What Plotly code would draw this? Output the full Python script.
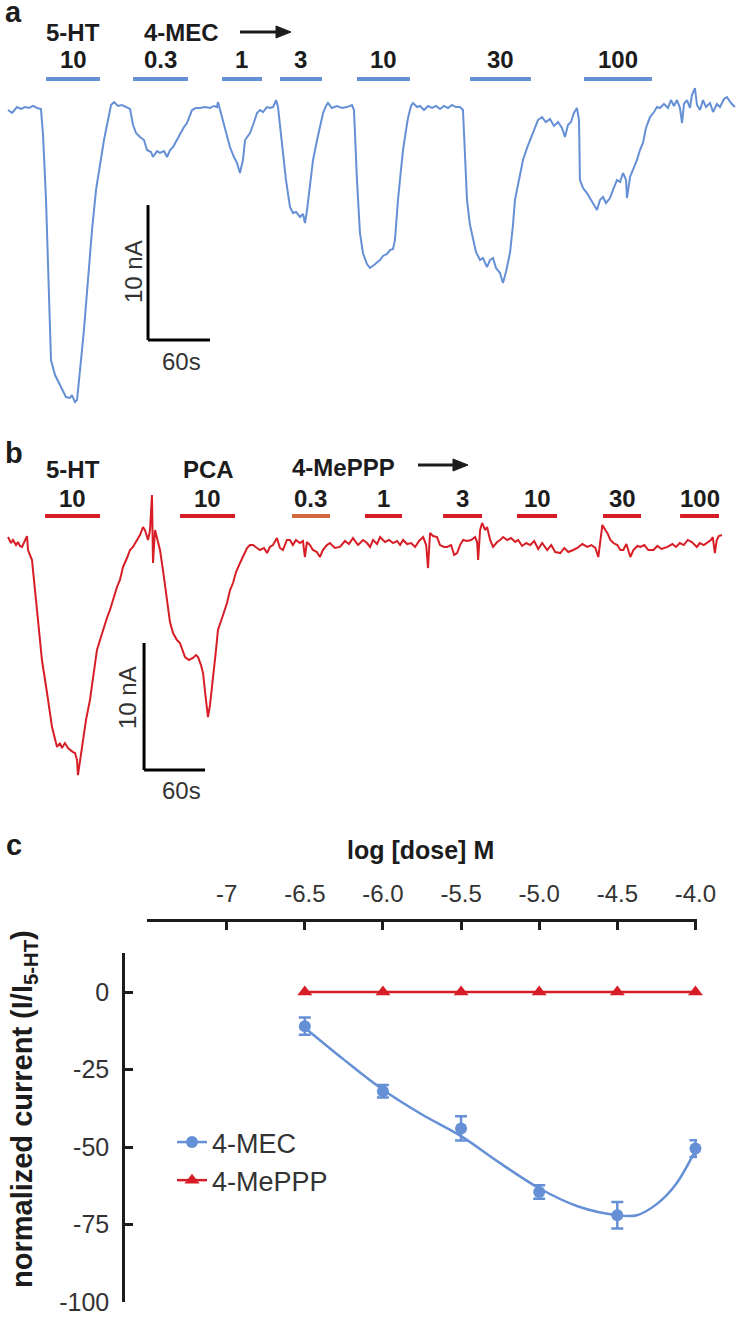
import plotly.graph_objects as go

# ---------------- DATA ----------------
# Panel a: 4-MEC trace (time in s, current in nA)
A_T = [0, 3.9, 8.7, 12.6, 16.5, 20.3, 24.2, 28.1, 31.9, 33.9, 36.8, 39.7, 41.6, 45.5, 50.3, 53.2, 56.1, 60.0,
       61.9, 64.8, 66.8, 69.7, 73.5, 77.4, 81.3, 85.2, 89.0, 92.9, 96.8, 99.7, 102.6, 106.5, 110.3, 115.2,
       118.1, 121.0, 123.9, 127.7, 131.6, 134.5, 138.4, 140.3, 144.2, 147.1, 151.0, 153.9, 156.8, 159.7,
       163.5, 166.5, 170.3, 173.2, 176.1, 178.1, 181.9, 185.8, 190.6, 195.5, 199.4, 202.3, 203.2, 205.2,
       209.0, 211.9, 214.8, 218.7, 221.6, 224.5, 227.4, 229.4, 232.3, 234.2, 237.1, 241.0, 243.9, 246.8,
       250.6, 253.5, 256.5, 259.4, 261.3, 263.2, 266.1, 269.0, 272.9, 275.8, 278.7, 282.6, 285.5, 287.4,
       289.4, 292.3, 295.2, 299.1, 302.0, 304.9, 307.7, 309.7, 313.5, 318.4, 323.2, 328.1, 332.9, 334.8,
       335.8, 337.7, 340.6, 343.5, 347.4, 350.3, 354.2, 357.1, 360.0, 362.9, 366.8, 369.7, 372.6, 374.5,
       377.4, 380.3, 382.3, 385.2, 387.1, 390.0, 392.0, 395.9, 398.7, 402.6, 406.5, 410.3, 414.2, 418.1,
       421.9, 425.8, 429.7, 433.5, 437.4, 440.3, 442.3, 444.2, 447.1, 450.0, 452.9, 456.8, 459.7, 463.5,
       466.5, 469.4, 472.3, 476.1, 479.0, 481.9, 485.8, 488.7, 490.6, 494.5, 498.4, 502.3, 505.2, 510.0,
       512.9, 516.8, 520.6, 524.5, 528.4, 532.3, 536.1, 539.0, 541.9, 544.8, 547.7, 550.6, 552.6, 553.5,
       556.5, 560.3, 563.2, 566.1, 570.0, 572.9, 575.8, 578.7, 582.6, 585.5, 589.4, 592.3, 595.2, 598.1,
       599.0, 602.0, 605.8, 608.7, 611.6, 614.5, 617.4, 621.3, 625.2, 628.1, 631.0, 634.8, 638.7, 641.6,
       644.5, 647.4, 650.3, 652.3, 654.2, 657.1, 660.0, 661.9, 664.8, 666.8, 669.7, 672.6, 675.5, 679.4,
       682.3, 686.1, 689.0, 692.9, 695.8, 699.7, 703.5]
A_I = [-0.15, -0.37, 0.07, -0.07, 0.07, 0.0, 0.15, 0.0, -0.07, -2.0, -6.81, -13.48, -18.67, -19.78, -20.52,
       -20.89, -21.41, -21.48, -21.26, -21.78, -21.63, -19.41, -16.44, -12.74, -9.04, -6.07, -4.22, -2.37,
       -0.89, 0.22, 0.44, 0.15, 0.22, 0.0, -0.07, -1.26, -1.85, -2.15, -2.37, -3.11, -3.26, -3.63, -3.19,
       -3.33, -3.19, -3.63, -3.11, -2.89, -2.37, -1.85, -1.41, -1.11, -0.52, -0.15, 0.0, 0.0, 0.07, 0.0,
       0.15, 0.07, 0.44, -0.15, -1.26, -2.15, -2.89, -3.63, -4.07, -4.81, -3.85, -2.37, -2.0, -1.85, -1.26,
       -0.37, -0.15, -0.30, 0.07, 0.0, 0.07, 0.59, 0.07, -1.26, -3.63, -5.33, -7.33, -7.78, -7.70, -8.07,
       -7.85, -8.52, -7.56, -5.56, -3.85, -2.37, -1.26, -0.37, 0.15, 0.37, 0.0, 0.15, 0.0, 0.07, 0.22,
       -0.15, -1.85, -5.33, -9.26, -10.74, -11.56, -11.85, -11.63, -11.41, -11.26, -10.96, -10.81, -10.52,
       -10.44, -9.78, -6.81, -4.59, -3.11, -1.63, -0.74, 0.15, 0.37, 0.07, 0.15, -0.15, 0.15, 0.0, 0.15,
       -0.07, 0.15, 0.0, 0.22, 0.07, 0.07, -0.15, -3.11, -6.81, -8.67, -9.78, -10.67, -11.26, -11.11,
       -11.78, -11.26, -11.11, -11.85, -12.22, -12.96, -12.15, -10.74, -8.67, -6.81, -5.33, -3.85, -2.96,
       -2.37, -1.41, -0.89, -0.67, -1.04, -0.81, -1.33, -1.04, -1.48, -2.15, -1.26, -1.04, -0.37, 0.0,
       -0.89, -5.33, -5.93, -6.30, -6.67, -7.04, -7.56, -6.81, -6.59, -7.04, -6.67, -6.07, -5.33, -5.48,
       -4.81, -5.33, -6.67, -5.11, -4.44, -3.85, -3.11, -2.59, -1.48, -0.67, -0.30, 0.07, 0.0, 0.30, 0.0,
       0.59, 0.15, 0.59, 0.0, -1.11, 0.30, 0.59, 0.0, 0.96, 1.48, 0.22, -0.15, 0.59, 0.07, 0.37, -0.30,
       0.30, 0.07, 0.67, 0.81, 0.37, 0.07]

# Panel a: application bars (s) and labels (µM)
A_BAR_START = [36.8, 121.0, 207.1, 263.2, 337.7, 447.1, 557.4]
A_BAR_END = [89.0, 174.2, 245.8, 303.9, 389.0, 506.1, 623.2]
A_DOSES = ["10", "0.3", "1", "3", "10", "30", "100"]

# Panel b: 4-MePPP trace (time in s, current in nA)
B_T = [0, 2.95, 4.9, 7.9, 9.8, 11.8, 13.8, 16.7, 18.7, 19.7, 23.6, 28.5, 33.4, 38.4, 43.3, 48.2, 51.1, 53.1,
       56.0, 59.0, 61.0, 63.9, 65.9, 67.9, 68.8, 70.8, 73.7, 76.7, 80.6, 84.6, 87.5, 90.5, 93.4, 97.3, 100.3,
       103.3, 107.2, 110.1, 113.1, 117.0, 120.0, 122.9, 126.9, 129.8, 132.8, 134.7, 137.7, 139.7, 141.6,
       142.6, 144.6, 146.5, 149.5, 152.4, 155.4, 157.3, 159.3, 162.3, 166.2, 169.1, 172.1, 174.1, 178.0,
       181.9, 184.9, 186.9, 189.8, 191.8, 194.7, 196.7, 198.7, 201.6, 204.6, 206.5, 208.5, 211.5, 215.4,
       218.4, 221.3, 224.3, 228.2, 231.1, 235.1, 238.0, 241.0, 244.9, 247.8, 251.8, 254.7, 257.6, 260.6,
       264.5, 267.5, 270.4, 274.3, 277.3, 280.2, 283.2, 287.1, 290.1, 292.0, 294.0, 297.0, 299.9, 303.8,
       306.8, 309.7, 313.7, 316.6, 321.5, 326.5, 331.4, 335.3, 339.3, 344.3, 349.2, 353.1, 356.1, 359.0,
       363.0, 365.9, 370.8, 374.8, 378.7, 382.7, 385.6, 388.6, 392.5, 396.5, 400.4, 404.3, 408.3, 411.3,
       413.1, 415.1, 418.0, 422.0, 424.9, 428.9, 431.8, 435.8, 438.8, 441.7, 444.6, 447.6, 451.5, 455.5,
       459.4, 461.4, 462.4, 464.3, 466.3, 469.3, 471.2, 474.2, 477.1, 481.1, 484.0, 487.0, 490.9, 494.8,
       498.8, 501.7, 505.7, 509.6, 513.6, 517.5, 521.5, 525.4, 530.3, 534.3, 538.2, 543.2, 547.1, 551.1,
       556.0, 559.9, 564.9, 569.8, 573.7, 577.7, 580.6, 582.6, 584.6, 587.5, 589.5, 592.5, 595.4, 599.3,
       602.3, 605.2, 608.2, 612.1, 615.1, 619.0, 622.0, 625.9, 629.8, 634.8, 638.7, 642.7, 648.6, 653.5,
       657.0, 660.8, 664.7, 668.6, 672.6, 677.5, 680.4, 684.4, 687.3, 691.3, 693.2, 695.2, 697.1, 699.1,
       702.1]
B_I = [0.39, -0.08, 0.16, -0.24, 0.0, -0.31, -0.39, 0.16, 0.47, -0.63, -1.42, -5.35, -9.29, -11.89, -14.57,
       -16.14, -15.83, -16.22, -15.83, -16.22, -16.38, -16.54, -16.61, -17.17, -18.35, -17.17, -15.83,
       -14.02, -12.44, -10.08, -8.50, -7.72, -6.93, -5.98, -5.35, -4.57, -3.54, -2.99, -1.97, -1.26, -0.63,
       -0.39, 0.16, 0.55, 1.18, 0.94, 0.16, 0.94, 3.70, -1.65, 0.94, 0.39, -0.63, -2.20, -4.17, -5.35,
       -6.30, -7.17, -7.72, -7.95, -8.66, -9.06, -9.29, -9.13, -8.90, -9.06, -9.69, -10.31, -12.44, -13.78,
       -12.83, -10.87, -8.50, -6.93, -6.38, -5.75, -4.80, -3.78, -3.23, -2.36, -1.65, -1.10, -0.47, -0.24,
       -0.24, -0.47, -0.63, -0.47, -0.87, -0.39, -0.24, 0.31, -0.47, -0.63, 0.16, 0.16, -0.24, 0.16, -0.08,
       0.08, -1.18, 0.0, -0.24, -0.63, -0.79, -1.18, -0.63, -0.24, -0.08, -0.47, -0.39, 0.08, -0.16, 0.31,
       -0.24, 0.16, -0.08, -0.39, 0.16, -0.16, 0.39, 0.0, 0.16, -0.08, 0.08, -0.24, 0.16, -0.16, -0.08,
       -0.39, 0.08, 0.39, -0.24, -2.05, 0.71, 0.47, 0.39, -0.24, -0.39, -0.39, -0.24, -1.02, -0.87, -0.24,
       0.16, 0.08, 0.16, 0.39, 0.0, -1.42, 0.94, 1.50, 0.94, 1.18, 0.16, -0.39, 0.0, 0.16, 0.39, 0.16,
       0.31, 0.0, 0.16, -0.31, -0.08, -0.24, 0.08, -0.55, -0.08, -0.63, -0.24, -0.79, -0.87, -0.47, -0.79,
       -0.63, -0.47, -0.16, -0.39, -0.24, -0.47, -1.18, 0.31, 1.34, 0.94, 0.71, 0.16, -0.08, -0.24, -0.63,
       -0.63, -0.16, -1.18, -0.63, -0.31, -0.39, -0.24, -0.63, -0.63, -0.31, -0.55, -0.39, -0.16, -0.39,
       -0.08, -0.24, 0.16, 0.0, -0.39, -0.08, -0.24, -0.08, 0.16, 0.39, -0.87, 0.16, 0.47, 0.55]

B_BAR_START = [36.4, 169.2, 279.3, 351.1, 427.9, 500.6, 585.2, 661.0]
B_BAR_END = [90.5, 223.3, 316.7, 387.5, 466.2, 540.0, 622.6, 699.3]
B_DOSES = ["10", "10", "0.3", "1", "3", "10", "30", "100"]

# Scale bars
SCALE_NA = 10
SCALE_S = 60

# Panel c: concentration-response
LOG_DOSE = [-6.5, -6.0, -5.5, -5.0, -4.5, -4.0]
MEC_MEAN = [-11, -32, -44, -64.5, -72, -50.5]
MEC_SEM = [2.8, 2.0, 3.9, 2.2, 4.3, 2.7]
MEPPP_MEAN = [0, 0, 0, 0, 0, 0]
# fitted curve for 4-MEC
MEC_FIT_X = [-6.5, -6.25, -6.0, -5.75, -5.5, -5.25, -5.0, -4.75, -4.5, -4.375, -4.25, -4.125, -4.0]
MEC_FIT_Y = [-11.5, -21.8, -31.5, -39.5, -46.5, -55.2, -63.3, -69.2, -72.0, -72.0, -68.5, -62.0, -51.0]
X_TICKS = [-7, -6.5, -6.0, -5.5, -5.0, -4.5, -4.0]
X_TICK_TEXT = ["-7", "-6.5", "-6.0", "-5.5", "-5.0", "-4.5", "-4.0"]
Y_TICKS = [0, -25, -50, -75, -100]
Y_TICK_TEXT = ["0", "-25", "-50", "-75", "-100"]

# ---------------- STYLE ----------------
W, H = 737, 1317
BLUE = "#6690d6"
RED = "#d71e26"
ORANGE = "#d2673e"
INK = "#1c1c1c"
GREY = "#333333"
FONT = "Liberation Sans"


def px(x):
    return x / W


def py(y):
    return 1 - y / H


fig = go.Figure()

# Panel a trace
fig.add_trace(go.Scatter(x=A_T, y=A_I, mode="lines", line=dict(color=BLUE, width=2),
                         xaxis="x", yaxis="y", showlegend=False, hoverinfo="skip"))
# Panel b trace
fig.add_trace(go.Scatter(x=B_T, y=B_I, mode="lines", line=dict(color=RED, width=2),
                         xaxis="x2", yaxis="y2", showlegend=False, hoverinfo="skip"))

# Panel c
fig.add_trace(go.Scatter(x=MEC_FIT_X, y=MEC_FIT_Y, mode="lines",
                         line=dict(color=BLUE, width=2.5, shape="spline", smoothing=1.0),
                         xaxis="x3", yaxis="y3", cliponaxis=False, showlegend=False))
fig.add_trace(go.Scatter(x=LOG_DOSE, y=MEC_MEAN, mode="markers", name="4-MEC",
                         marker=dict(symbol="circle", size=12, color=BLUE),
                         error_y=dict(type="data", array=MEC_SEM, color=BLUE, thickness=2.5, width=6),
                         xaxis="x3", yaxis="y3", cliponaxis=False, showlegend=False))
fig.add_trace(go.Scatter(x=LOG_DOSE, y=MEPPP_MEAN, mode="lines+markers", name="4-MePPP",
                         line=dict(color=RED, width=2.5),
                         marker=dict(symbol="triangle-up", size=13, color=RED),
                         xaxis="x3", yaxis="y3", cliponaxis=False, showlegend=False))
# legend entries
fig.add_trace(go.Scatter(x=[None], y=[None], mode="lines+markers", name="4-MEC",
                         line=dict(color=BLUE, width=2.5), marker=dict(symbol="circle", size=12, color=BLUE),
                         xaxis="x3", yaxis="y3", legendgroup="g1"))
fig.add_trace(go.Scatter(x=[None], y=[None], mode="lines+markers", name="4-MePPP",
                         line=dict(color=RED, width=2.5), marker=dict(symbol="triangle-up", size=13, color=RED),
                         xaxis="x3", yaxis="y3", legendgroup="g2"))

shapes = []
annotations = []


def note(text, x, y, size=24, color=INK, xref="paper", angle=0):
    annotations.append(dict(x=x, y=y, xref=xref, yref="paper", text=text, showarrow=False,
                            xanchor="center", yanchor="middle", textangle=angle,
                            font=dict(family=FONT, size=size, color=color)))


# Application bars
for s, e in zip(A_BAR_START, A_BAR_END):
    shapes.append(dict(type="line", xref="x", yref="paper", x0=s, x1=e, y0=py(79), y1=py(79),
                       line=dict(color=BLUE, width=4)))
for i, (s, e) in enumerate(zip(B_BAR_START, B_BAR_END)):
    shapes.append(dict(type="line", xref="x2", yref="paper", x0=s, x1=e, y0=py(516), y1=py(516),
                       line=dict(color=ORANGE if i == 2 else RED, width=4)))

# Dose labels
for s, e, lab in zip(A_BAR_START, A_BAR_END, A_DOSES):
    note("<b>%s</b>" % lab, (s + e) / 2, py(59), xref="x")
for s, e, lab in zip(B_BAR_START, B_BAR_END, B_DOSES):
    note("<b>%s</b>" % lab, (s + e) / 2, py(498), xref="x2")

# Drug names
for txt, xc, yc in [("5-HT", 73, 33), ("4-MEC", 181, 33), ("5-HT", 73, 470), ("PCA", 208, 470),
                    ("4-MePPP", 343, 467)]:
    note("<b>%s</b>" % txt, px(xc), py(yc))

# Arrows (shaft + head)
for x0, x1, yc in [(240, 291, 32), (418, 468, 465)]:
    shapes.append(dict(type="line", xref="paper", yref="paper", x0=px(x0), x1=px(x1 - 10),
                       y0=py(yc), y1=py(yc), line=dict(color=INK, width=3)))
    shapes.append(dict(type="path", xref="paper", yref="paper",
                       path="M %.5f,%.5f L %.5f,%.5f L %.5f,%.5f Z" % (
                           px(x1), py(yc), px(x1 - 15), py(yc - 6), px(x1 - 15), py(yc + 6)),
                       fillcolor=INK, line=dict(color=INK, width=1)))

# Panel letters
for txt, xc, yc in [("a", 13, 12), ("b", 14, 453), ("c", 14, 845)]:
    note("<b>%s</b>" % txt, px(xc), py(yc), size=29)

# Scale bars (data units)
SA_T, SA_I = 135.5, -7.19
SB_T, SB_I = 133.8, -7.95
for xr, yr, t0, i0 in [("x", "y", SA_T, SA_I), ("x2", "y2", SB_T, SB_I)]:
    shapes.append(dict(type="line", xref=xr, yref=yr, x0=t0, x1=t0, y0=i0, y1=i0 - SCALE_NA,
                       line=dict(color="black", width=3)))
    shapes.append(dict(type="line", xref=xr, yref=yr, x0=t0, x1=t0 + SCALE_S, y0=i0 - SCALE_NA,
                       y1=i0 - SCALE_NA, line=dict(color="black", width=3)))
for xc, yc in [(133, 272), (128, 697)]:
    note("%d nA" % SCALE_NA, px(xc), py(yc), color=GREY, angle=-90)
for xc, yc in [(181, 361), (181, 790)]:
    note("%ds" % SCALE_S, px(xc), py(yc), color=GREY)

# Panel c titles
note("<b>log [dose] M</b>", px(421), py(850), size=25)
note("<b>normalized current (I/I<sub>5-HT</sub>)</b>", px(24), py(1109), size=29, angle=-90)

hidden = dict(visible=False, showgrid=False, zeroline=False, fixedrange=True)

fig.update_layout(
    width=W, height=H, margin=dict(l=0, r=0, t=0, b=0, autoexpand=False),
    paper_bgcolor="white", plot_bgcolor="white",
    xaxis=dict(domain=[0, 1], range=[-7.742, 705.5], anchor="y", **hidden),
    yaxis=dict(domain=[py(415), 1], range=[-22.74, 8.0], anchor="x", **hidden),
    xaxis2=dict(domain=[0, 1], range=[-7.869, 717.0], anchor="y2", **hidden),
    yaxis2=dict(domain=[py(810), py(415)], range=[-21.10, 10.0], anchor="x2", **hidden),
    xaxis3=dict(domain=[px(147), px(697)], range=[-7.51, -3.99], anchor="free", position=py(920),
                side="top", showline=True, linecolor=INK, linewidth=2.5, ticks="inside", ticklen=8,
                tickwidth=2.5, tickcolor=INK, tickvals=X_TICKS, ticktext=X_TICK_TEXT,
                tickfont=dict(family=FONT, size=24, color=GREY), ticklabelstandoff=8,
                showgrid=False, zeroline=False),
    yaxis3=dict(domain=[py(1302), py(953)], range=[-100, 12.6], anchor="free", position=px(123),
                side="left", showline=True, linecolor=INK, linewidth=2.5, ticks="inside", ticklen=8,
                tickwidth=2.5, tickcolor=INK, tickvals=Y_TICKS, ticktext=Y_TICK_TEXT,
                tickfont=dict(family=FONT, size=25, color=GREY), ticklabelstandoff=8,
                showgrid=False, zeroline=False),
    legend=dict(x=px(172), y=py(1118), xanchor="left", yanchor="top", bgcolor="rgba(0,0,0,0)",
                font=dict(family=FONT, size=27, color=GREY), traceorder="grouped", tracegroupgap=0,
                itemwidth=30),
    shapes=shapes, annotations=annotations,
)

fig.write_html("out.html", config={"displayModeBar": False},
               post_script="document.body.style.margin='0';document.body.style.overflow='hidden';")
